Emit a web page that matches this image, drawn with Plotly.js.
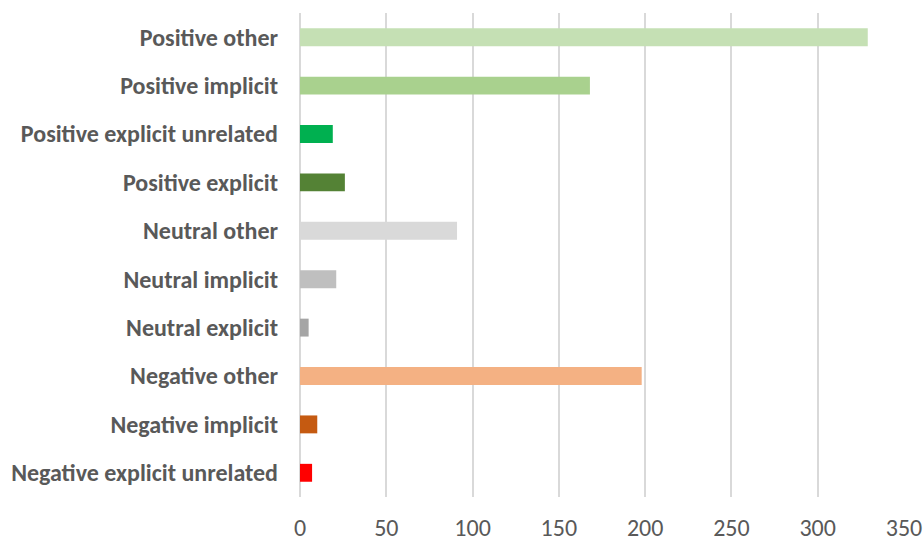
<!DOCTYPE html>
<html>
<head>
<meta charset="utf-8">
<script src="https://cdn.plot.ly/plotly-3.0.1.min.js"></script>
<style>
  html, body { margin: 0; padding: 0; background: #ffffff; }
  #chart { width: 923px; height: 541px; }
</style>
</head>
<body>
<div id="chart"></div>
<script>
// Sentiment categories, listed top to bottom
const categories = [
  "Positive other",
  "Positive implicit",
  "Positive explicit unrelated",
  "Positive explicit",
  "Neutral other",
  "Neutral implicit",
  "Neutral explicit",
  "Negative other",
  "Negative implicit",
  "Negative explicit unrelated"
];

// Number of items in each category
const counts = [329, 168, 19, 26, 91, 21, 5, 198, 10, 7];

// Fill colour per category
const barColors = [
  "#c5e0b4", "#a9d18e", "#00b050", "#548235",
  "#d9d9d9", "#bfbfbf", "#a5a5a5",
  "#f4b183", "#c55a11", "#ff0000"
];

const xTickValues = [0, 50, 100, 150, 200, 250, 300, 350];

const fontFamily = "Carlito, Lato, 'Liberation Sans', sans-serif";
const textColor = "#595959";

const trace = {
  type: "bar",
  orientation: "h",
  y: categories,
  x: counts,
  marker: { color: barColors, line: { width: 0 } },
  width: 0.37,
  hoverinfo: "x+y"
};

const layout = {
  width: 923,
  height: 541,
  margin: { l: 300, r: 19, t: 13, b: 44, pad: 0 },
  paper_bgcolor: "#ffffff",
  plot_bgcolor: "#ffffff",
  showlegend: false,
  font: { family: fontFamily, color: textColor },
  xaxis: {
    range: [0, 350],
    tickvals: xTickValues,
    ticktext: xTickValues.map(String),
    showgrid: true,
    gridcolor: "#d9d9d9",
    gridwidth: 2,
    zeroline: true,
    zerolinecolor: "#d9d9d9",
    zerolinewidth: 2,
    showline: false,
    ticks: "",
    ticklabelstandoff: 14,
    tickfont: { family: fontFamily, size: 24, color: textColor },
    fixedrange: true
  },
  yaxis: {
    type: "category",
    categoryorder: "array",
    categoryarray: categories,
    autorange: "reversed",
    showgrid: false,
    zeroline: false,
    showline: false,
    ticks: "",
    ticklabelstandoff: 21,
    tickfont: { family: fontFamily, size: 24, color: textColor, weight: "bold" },
    fixedrange: true
  }
};

Plotly.newPlot("chart", [trace], layout, { displayModeBar: false, staticPlot: true });
</script>
</body>
</html>
